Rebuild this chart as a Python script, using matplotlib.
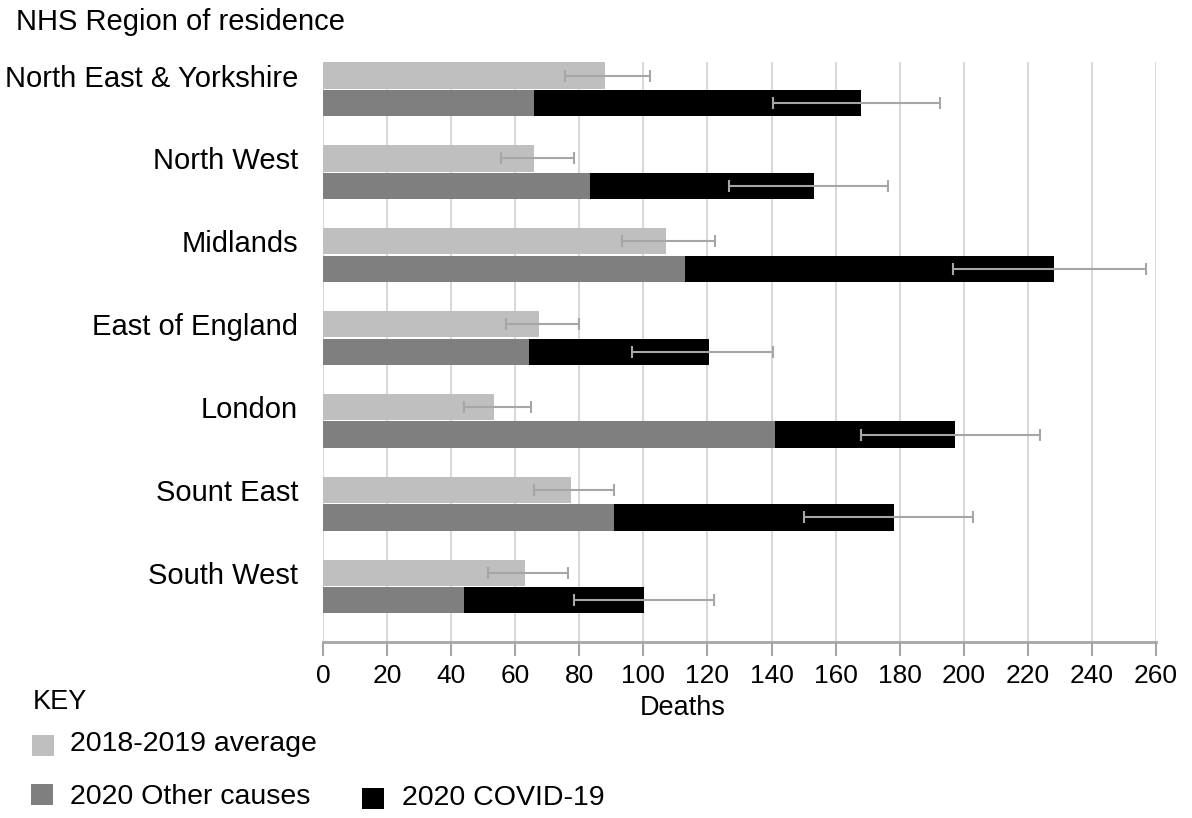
import matplotlib
matplotlib.use("Agg")
import matplotlib.pyplot as plt
from matplotlib.patches import Rectangle
import numpy as np

plt.rcParams['font.family'] = ['Liberation Sans', 'DejaVu Sans']

# ---- data ----
regions = ["North East & Yorkshire", "North West", "Midlands", "East of England",
           "London", "Sount East", "South West"]
avg_2018_2019 = [88, 66, 107, 67.5, 53.5, 77.5, 63]
avg_lo = [75.5, 55.5, 93.3, 57, 44, 66, 51.5]
avg_hi = [102, 78.3, 122.3, 80, 65, 90.7, 76.5]
other_2020 = [66, 83.4, 113, 64.2, 141.2, 90.9, 44.1]
covid_2020 = [102, 69.7, 115.3, 56.2, 56, 87.2, 56]
total_lo = [140.5, 126.6, 196.6, 96.6, 167.9, 150.1, 78.4]
total_hi = [192.7, 176.4, 257, 140.6, 223.7, 203, 122]
xticks = list(range(0, 261, 20))
legend_labels = ["2018-2019 average", "2020 Other causes", "2020 COVID-19"]

colors = {"avg": "#bfbfbf", "other": "#7f7f7f", "covid": "#000000"}
err_color = "#a6a6a6"
grid_color = "#d9d9d9"

W, H = 1192, 818
fig = plt.figure(figsize=(W / 100, H / 100), dpi=100)
ax = fig.add_axes([323 / W, 1 - 642 / H, 833 / W, 580 / H])

n = len(regions)
y = np.arange(n)
off = 0.1666
bh = 0.317
avg = np.array(avg_2018_2019)
oth = np.array(other_2020)
cov = np.array(covid_2020)
tot = oth + cov

ax.barh(y - off, avg, height=bh, color=colors["avg"], zorder=2)
ax.barh(y + off, oth, height=bh, color=colors["other"], zorder=2)
ax.barh(y + off, cov, left=oth, height=bh, color=colors["covid"], zorder=2)

ekw = dict(fmt="none", ecolor=err_color, elinewidth=1.5, capsize=4.5, capthick=1.5, zorder=3)
ax.errorbar(avg, y - off, xerr=[avg - np.array(avg_lo), np.array(avg_hi) - avg], **ekw)
ax.errorbar(tot, y + off, xerr=[tot - np.array(total_lo), np.array(total_hi) - tot], **ekw)

ax.set_xlim(0, 260)
ax.set_ylim(6.670, -0.331)
ax.set_xticks(xticks)
ax.set_xticklabels([str(t) for t in xticks], fontsize=19)
ax.set_yticks(y - off)
ax.set_yticklabels(regions, fontsize=21)
ax.tick_params(axis="y", length=0, pad=18)
ax.tick_params(axis="x", length=10, width=1.5, color="#a6a6a6", pad=6)
ax.grid(axis="x", color=grid_color, linewidth=1.5, zorder=0)
ax.set_axisbelow(True)
for s in ["top", "right", "left"]:
    ax.spines[s].set_visible(False)
ax.spines["bottom"].set_color("#a6a6a6")
ax.spines["bottom"].set_linewidth(2)

fig.text(16 / W, 1 - 22 / H, "NHS Region of residence", fontsize=21, ha="left", va="center")
fig.text(683 / W, 1 - 708 / H, "Deaths", fontsize=19.5, ha="center", va="center")
fig.text(33 / W, 1 - 702 / H, "KEY", fontsize=19.5, ha="left", va="center")

# legend (manual key)
keys = [("avg", 32, 735, 70, 744), ("other", 31, 784, 70, 797), ("covid", 362, 788, 402, 798)]
for (k, sx, sy, tx, ty), lab in zip(keys, legend_labels):
    fig.add_artist(Rectangle((sx / W, 1 - (sy + 21) / H), 22 / W, 21 / H,
                             transform=fig.transFigure, facecolor=colors[k], edgecolor="none"))
    fig.text(tx / W, 1 - ty / H, lab, fontsize=20.5, ha="left", va="center")

fig.savefig("out.png", dpi=100)
